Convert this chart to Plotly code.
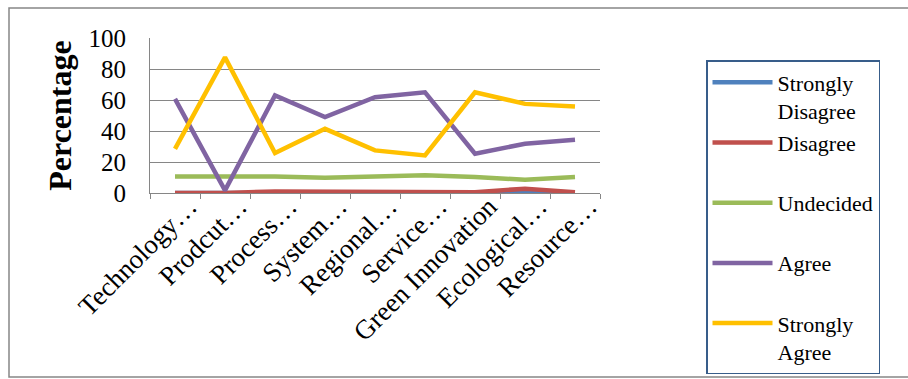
import plotly.graph_objects as go

categories = ["Technology…", "Prodcut…", "Process…", "System…", "Regional…",
              "Service…", "Green Innovation", "Ecological…", "Resource…"]
strongly_disagree = [0, 0, 0, 0, 0, 0, 0, 0, 0]
disagree = [0, 0, 1, 0.8, 0.5, 0.5, 0.5, 2.8, 0.5]
undecided = [10.7, 10.7, 10.7, 9.9, 10.7, 11.4, 10.3, 8.6, 10.3]
agree = [60.7, 1.7, 62.9, 49, 61.8, 65, 25.3, 31.8, 34.3]
strongly_agree = [28.5, 87.5, 25.8, 41.4, 27.5, 24.2, 65, 57.5, 55.8]

series = [
    ("Strongly<br>Disagree", strongly_disagree, "#4F81BD"),
    ("Disagree<br> ", disagree, "#C0504D"),
    ("Undecided<br> ", undecided, "#9BBB59"),
    ("Agree<br> ", agree, "#8064A2"),
    ("Strongly<br>Agree", strongly_agree, "#FFC000"),
]

W, H = 908, 379
L, R, T, B = 150, 600, 38, 193

def px_x(x):
    return (x - L) / (R - L)

def px_y(y):
    return (B - y) / (B - T)

FONT = "Liberation Serif, Times New Roman, serif"

fig = go.Figure()
for i, (name, vals, color) in enumerate(series):
    fig.add_trace(go.Scatter(
        x=categories, y=vals, mode="lines", name=name,
        line=dict(color=color, width=4.5),
        legendgroup=f"g{i}",
    ))

fig.update_layout(
    width=W, height=H,
    margin=dict(l=L, r=W - R, t=T, b=H - B, autoexpand=False),
    paper_bgcolor="white", plot_bgcolor="white",
    font=dict(family=FONT, size=24, color="black"),
    showlegend=True,
    legend=dict(
        x=px_x(706), y=px_y(60), xanchor="left", yanchor="top",
        bordercolor="#385D8A", borderwidth=1.5, bgcolor="white",
        font=dict(family=FONT, size=22, color="black"),
        valign="top", traceorder="grouped", tracegroupgap=0,
        itemwidth=60, maxheight=360,
    ),
    xaxis=dict(
        type="category", range=[-0.5, 8.5],
        showgrid=False, showline=True, linecolor="#868686", linewidth=1,
        ticks="outside", tickson="boundaries", ticklen=5, tickcolor="#868686",
        tickangle=-45, tickfont=dict(family=FONT, size=27, color="black"),
        ticklabelshift=14, ticklabelstandoff=-14,
        zeroline=False, automargin=False,
    ),
    yaxis=dict(
        range=[0, 100], dtick=20, tick0=0,
        showgrid=True, gridcolor="#868686", gridwidth=1,
        showline=True, linecolor="#868686", linewidth=1,
        ticks="", zeroline=False, ticklabelstandoff=18,
        tickfont=dict(family=FONT, size=25, color="black"),
        automargin=False,
        title=dict(text="<b>Percentage</b>", font=dict(family=FONT, size=32, color="black"),
                   standoff=7),
    ),
    shapes=[dict(
        type="rect", xref="paper", yref="paper",
        x0=px_x(9), x1=px_x(912), y0=px_y(377), y1=px_y(8),
        line=dict(color="#868686", width=1.5), fillcolor="rgba(0,0,0,0)",
        layer="below",
    )],
)

fig.write_html("out.html")
